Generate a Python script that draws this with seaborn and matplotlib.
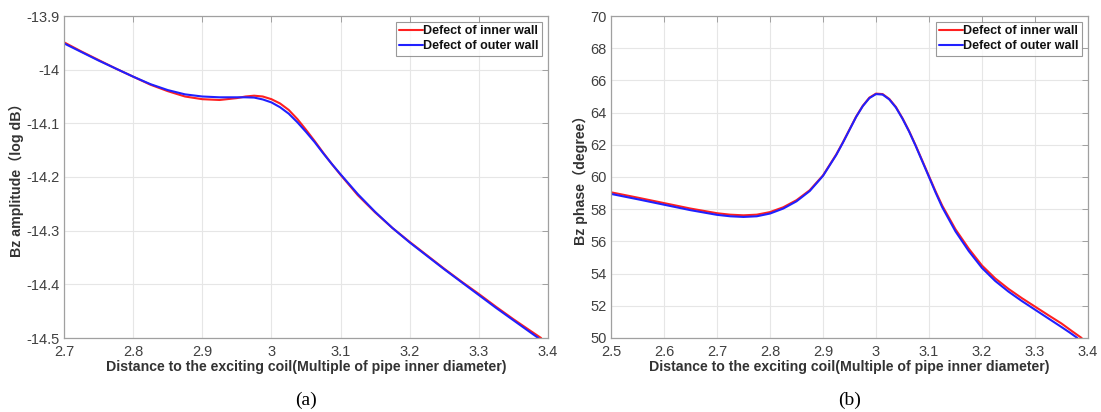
import numpy as np
import pandas as pd
import matplotlib
matplotlib.use("Agg")
import matplotlib.pyplot as plt
import seaborn as sns

# ---------------- data ----------------
amp_x_inner = [2.700, 2.725, 2.750, 2.775, 2.800, 2.825, 2.850, 2.875, 2.900, 2.925, 2.950, 2.9625,
               2.975, 2.9875, 3.000, 3.0125, 3.025, 3.0375, 3.050, 3.0625, 3.075, 3.0875, 3.100,
               3.125, 3.150, 3.175, 3.200, 3.225, 3.250, 3.275, 3.300, 3.325, 3.350, 3.375, 3.390]
amp_inner = [-13.949, -13.966, -13.982, -13.998, -14.013, -14.028, -14.040, -14.050, -14.055, -14.0565,
             -14.053, -14.050, -14.0485, -14.050, -14.055, -14.063, -14.075, -14.092, -14.112, -14.133,
             -14.155, -14.176, -14.196, -14.234, -14.266, -14.295, -14.321, -14.346, -14.371, -14.395,
             -14.418, -14.442, -14.465, -14.487, -14.500]
amp_x_outer = [2.700, 2.725, 2.750, 2.775, 2.800, 2.825, 2.850, 2.875, 2.900, 2.925, 2.950, 2.9625,
               2.975, 2.9875, 3.000, 3.0125, 3.025, 3.0375, 3.050, 3.0625, 3.075, 3.0875, 3.100,
               3.125, 3.150, 3.175, 3.200, 3.225, 3.250, 3.275, 3.300, 3.325, 3.350, 3.375, 3.386]
amp_outer = [-13.951, -13.967, -13.983, -13.998, -14.013, -14.027, -14.038, -14.046, -14.050, -14.0515,
             -14.0515, -14.0515, -14.052, -14.0555, -14.061, -14.070, -14.082, -14.098, -14.116, -14.135,
             -14.156, -14.176, -14.195, -14.232, -14.265, -14.295, -14.322, -14.347, -14.372, -14.396,
             -14.420, -14.444, -14.467, -14.490, -14.500]

ph_x_inner = [2.500, 2.550, 2.600, 2.650, 2.700, 2.725, 2.750, 2.775, 2.800, 2.825, 2.850, 2.875,
              2.900, 2.925, 2.9375, 2.950, 2.9625, 2.975, 2.9875, 3.000, 3.0125, 3.025, 3.0375,
              3.050, 3.0625, 3.075, 3.0875, 3.100, 3.1125, 3.125, 3.150, 3.175, 3.200, 3.225,
              3.250, 3.275, 3.300, 3.325, 3.350, 3.370, 3.388]
ph_inner = [59.05, 58.72, 58.38, 58.04, 57.75, 57.66, 57.62, 57.66, 57.82, 58.12, 58.56, 59.18,
            60.10, 61.40, 62.15, 62.95, 63.75, 64.42, 64.93, 65.18, 65.15, 64.85, 64.35,
            63.65, 62.85, 61.95, 61.00, 60.05, 59.10, 58.22, 56.75, 55.55, 54.50, 53.70,
            53.05, 52.48, 51.95, 51.42, 50.90, 50.42, 50.00]
ph_x_outer = [2.500, 2.550, 2.600, 2.650, 2.700, 2.725, 2.750, 2.775, 2.800, 2.825, 2.850, 2.875,
              2.900, 2.925, 2.9375, 2.950, 2.9625, 2.975, 2.9875, 3.000, 3.0125, 3.025, 3.0375,
              3.050, 3.0625, 3.075, 3.0875, 3.100, 3.1125, 3.125, 3.150, 3.175, 3.200, 3.225,
              3.250, 3.275, 3.300, 3.325, 3.350, 3.365, 3.380]
ph_outer = [58.95, 58.62, 58.28, 57.94, 57.65, 57.56, 57.52, 57.56, 57.73, 58.04, 58.49, 59.13,
            60.07, 61.37, 62.13, 62.93, 63.73, 64.40, 64.90, 65.15, 65.12, 64.82, 64.32,
            63.62, 62.82, 61.92, 60.96, 60.00, 59.03, 58.12, 56.62, 55.40, 54.35, 53.54,
            52.88, 52.30, 51.76, 51.22, 50.68, 50.35, 50.00]

series_names = ["Defect of inner wall", "Defect of outer wall"]
colors = {"Defect of inner wall": "#ff2020", "Defect of outer wall": "#2020ff"}

df_amp = pd.concat([
    pd.DataFrame({"x": amp_x_inner, "y": amp_inner, "s": series_names[0]}),
    pd.DataFrame({"x": amp_x_outer, "y": amp_outer, "s": series_names[1]}),
])
df_ph = pd.concat([
    pd.DataFrame({"x": ph_x_inner, "y": ph_inner, "s": series_names[0]}),
    pd.DataFrame({"x": ph_x_outer, "y": ph_outer, "s": series_names[1]}),
])

# ---------------- style ----------------
sns.set_style("white")
plt.rcParams["font.family"] = ["Liberation Sans", "Noto Sans CJK SC", "DejaVu Sans"]

fig = plt.figure(figsize=(11.01, 4.12), dpi=100)
W, H = 1101, 412
ax1 = fig.add_axes([64 / W, 1 - 338 / H, 484 / W, 322 / H])
ax2 = fig.add_axes([611 / W, 1 - 338 / H, 477 / W, 322 / H])

tick_col = "#404040"
spine_col = "#a0a0a0"


def style_axes(ax, xlim, ylim, xticks, yticks, xtlabels, ytlabels, ylabel, letter):
    ax.set_xlim(*xlim)
    ax.set_ylim(*ylim)
    ax.set_xticks(xticks)
    ax.set_yticks(yticks)
    ax.set_xticklabels(xtlabels)
    ax.set_yticklabels(ytlabels)
    ax.grid(True, color="#e6e6e6", linewidth=0.8)
    ax.set_axisbelow(True)
    for sp in ax.spines.values():
        sp.set_color(spine_col)
        sp.set_linewidth(0.9)
    ax.tick_params(direction="in", length=4, width=0.7, color=spine_col,
                   labelsize=10.5, labelcolor=tick_col, top=True, right=True)
    ax.tick_params(axis="x", pad=5)
    ax.tick_params(axis="y", pad=3)
    ax.set_xlabel("Distance to the exciting coil(Multiple of pipe inner diameter)",
                  fontsize=10.2, fontweight="bold", color="#333333", labelpad=1)
    ax.set_ylabel(ylabel, fontsize=10.2, fontweight="bold", color="#333333", labelpad=2)
    ax.text(0.5, -0.193, letter, transform=ax.transAxes, ha="center", va="center",
            fontsize=14, family="Liberation Serif", color="black")
    leg = ax.legend(loc="upper right", fontsize=9, frameon=True, fancybox=False,
                    handlelength=1.85, handletextpad=0.05, borderpad=0.3, labelspacing=0.2,
                    borderaxespad=0.45)
    leg.get_frame().set_edgecolor("#808080")
    leg.get_frame().set_linewidth(0.8)
    for t in leg.get_texts():
        t.set_fontweight("bold")
        t.set_color("#111111")


sns.lineplot(data=df_amp, x="x", y="y", hue="s", hue_order=series_names, palette=colors,
             ax=ax1, linewidth=1.5, sort=True, estimator=None)
sns.lineplot(data=df_ph, x="x", y="y", hue="s", hue_order=series_names, palette=colors,
             ax=ax2, linewidth=1.5, sort=True, estimator=None)

amp_xticks = [2.7, 2.8, 2.9, 3.0, 3.1, 3.2, 3.3, 3.4]
amp_xtl = ["2.7", "2.8", "2.9", "3", "3.1", "3.2", "3.3", "3.4"]
amp_yticks = [-14.5, -14.4, -14.3, -14.2, -14.1, -14.0, -13.9]
amp_ytl = ["-14.5", "-14.4", "-14.3", "-14.2", "-14.1", "-14", "-13.9"]
ph_xticks = [2.5, 2.6, 2.7, 2.8, 2.9, 3.0, 3.1, 3.2, 3.3, 3.4]
ph_xtl = ["2.5", "2.6", "2.7", "2.8", "2.9", "3", "3.1", "3.2", "3.3", "3.4"]
ph_yticks = [50, 52, 54, 56, 58, 60, 62, 64, 66, 68, 70]
ph_ytl = [str(v) for v in ph_yticks]

style_axes(ax1, (2.7, 3.4), (-14.5, -13.9), amp_xticks, amp_yticks, amp_xtl, amp_ytl,
           "Bz amplitude（log dB）", "(a)")
style_axes(ax2, (2.5, 3.4), (50, 70), ph_xticks, ph_yticks, ph_xtl, ph_ytl,
           "Bz phase（degree）", "(b)")

fig.savefig("out.png", dpi=100, facecolor="white")
